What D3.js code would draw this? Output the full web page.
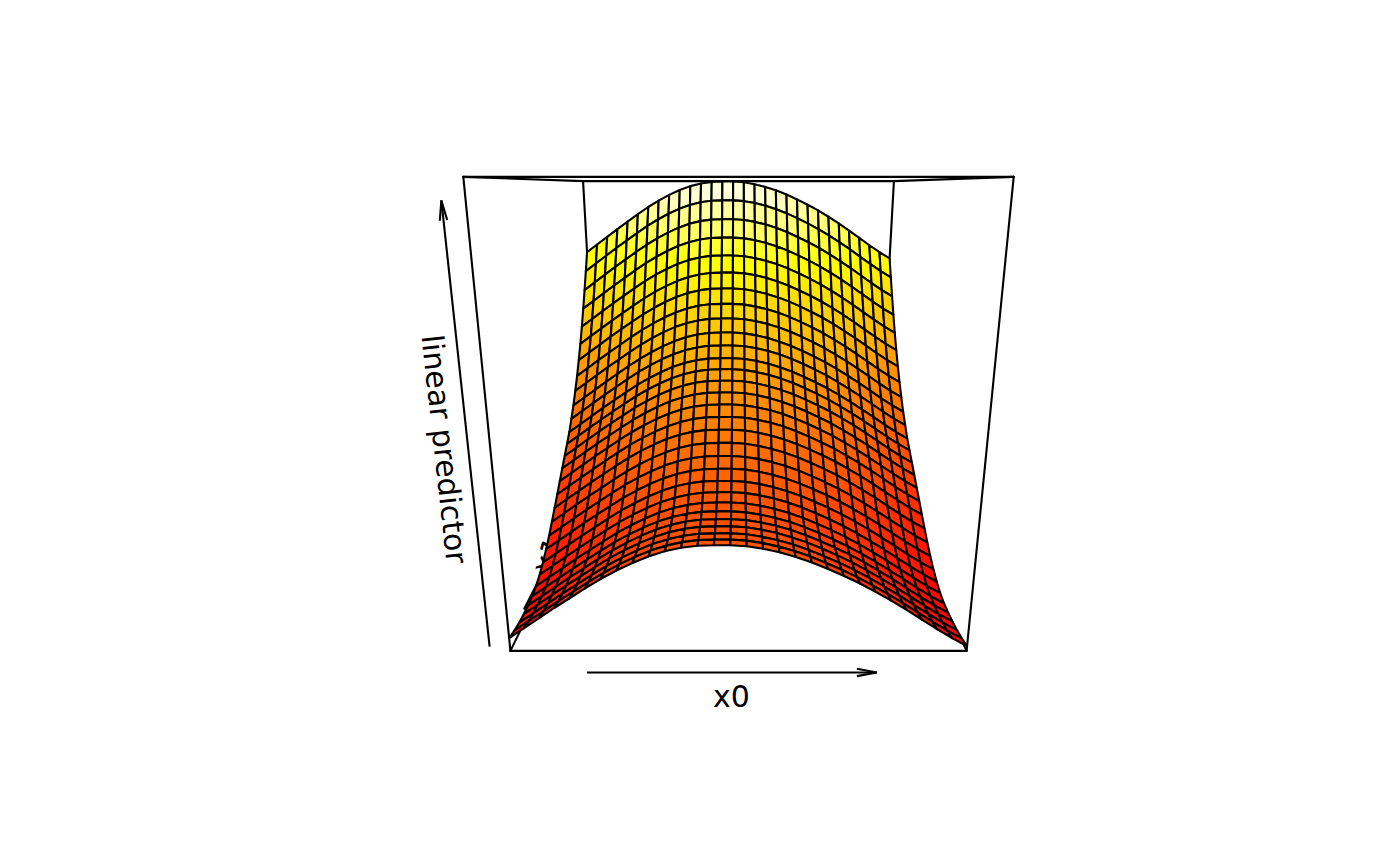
<!DOCTYPE html>
<html>
<head>
<meta charset="utf-8">
<script src="https://cdn.jsdelivr.net/npm/d3@7"></script>
<style>
  body { margin: 0; background: #fff; }
  text { font-family: "DejaVu Sans", sans-serif; font-size: 30px; fill: #000; }
</style>
</head>
<body>
<div id="chart"></div>
<script>
// additive smooth effects on the linear predictor
const x0Effect = [0.17, 0.38, 0.59, 0.80, 1.00, 1.20, 1.39, 1.56, 1.71, 1.84,
                  1.94, 2.01, 2.05, 2.06, 2.06, 2.04, 1.99, 1.92, 1.83, 1.72,
                  1.59, 1.45, 1.30, 1.13, 0.95, 0.76, 0.56, 0.36, 0.17, 0.00];
const x1Effect = [2.10, 2.05, 2.02, 2.01, 2.01, 2.03, 2.08, 2.17, 2.29, 2.44,
                  2.61, 2.80, 3.00, 3.20, 3.40, 3.60, 3.80, 4.00, 4.20, 4.45,
                  4.71, 5.01, 5.33, 5.68, 6.05, 6.46, 6.90, 7.36, 7.84, 8.33];
const zLimits = [2.0, 10.4];
const xLabel = 'x0', yLabel = 'x1', zLabel = 'linear predictor';

const width = 1400, height = 866;
const phi = 15 * Math.PI / 180, r = Math.sqrt(3), d = 1;
const nColours = 100;

const svg = d3.select('#chart').append('svg')
  .attr('width', width).attr('height', height)
  .attr('viewBox', [0, 0, width, height]);

// index / value -> unit box
const xWorld = d3.scaleLinear().domain([0, x0Effect.length - 1]).range([-1, 1]);
const yWorld = d3.scaleLinear().domain([0, x1Effect.length - 1]).range([-1, 1]);
const zWorld = d3.scaleLinear().domain(zLimits).range([-1, 1]);

// projected plane -> page
const screenX = d3.scaleLinear().domain([-1, 1]).range([738.5 - 690, 738.5 + 690]);
const screenY = d3.scaleLinear().domain([-1, 1]).range([371.5 + 690, 371.5 - 690]);

// same viewing transform as persp(theta = 0, phi = 15)
function project(x, y, z) {
  const Y = z * Math.cos(phi) + y * Math.sin(phi);
  const W = z * Math.sin(phi) - y * Math.cos(phi);
  const s = d / (r + 2 * d - W);
  return [screenX(x * s), screenY(Y * s)];
}

// heat.colors(n): rainbow part, then fading yellow
const heatColours = (() => {
  const j = Math.floor(nColours / 4), i = nColours - j, out = [];
  for (let k = 0; k < i; k++) {
    out.push(d3.hsl(360 * (1 / 6) * k / (i - 1), 1, 0.5).formatHex());
  }
  for (let k = 0; k < j; k++) {
    const sat = (1 - 1 / (2 * j)) + (k / (j - 1)) * ((1 / (2 * j)) - (1 - 1 / (2 * j)));
    const lo = Math.round(255 * (1 - sat));
    out.push(d3.rgb(255, 255, lo).formatHex());
  }
  return out;
})();

const surface = (i, j) => x0Effect[i] + x1Effect[j];
const allZ = x0Effect.flatMap(a => x1Effect.map(b => a + b));
const colourIndex = d3.scaleLinear().domain(d3.extent(allZ)).range([0, nColours - 1]).clamp(true);

const line = d3.line();
function edge(g, a, b) {
  g.append('path').attr('d', line([project(...a), project(...b)]))
    .attr('fill', 'none').attr('stroke', '#000').attr('stroke-width', 2.1)
    .attr('stroke-linecap', 'round');
}

function arrow(g, a, b) {
  const p = project(...a), q = project(...b);
  const ang = Math.atan2(q[1] - p[1], q[0] - p[0]);
  const len = 20.4, spread = 10.5 * Math.PI / 180;
  g.append('path').attr('d', line([p, q]))
    .attr('fill', 'none').attr('stroke', '#000').attr('stroke-width', 2.1);
  g.append('path')
    .attr('d', line([
      [q[0] - len * Math.cos(ang - spread), q[1] - len * Math.sin(ang - spread)],
      q,
      [q[0] - len * Math.cos(ang + spread), q[1] - len * Math.sin(ang + spread)]
    ]))
    .attr('fill', 'none').attr('stroke', '#000').attr('stroke-width', 2.1);
}

function label(g, txt, cx, cy, rot) {
  g.append('text').text(txt)
    .attr('text-anchor', 'middle').attr('dominant-baseline', 'central')
    .attr('transform', `translate(${cx},${cy}) rotate(${rot})`);
}

// back of the box, axes and labels go under the surface
const back = svg.append('g');
edge(back, [-1, 1, 1], [1, 1, 1]);
edge(back, [-1, 1, -1], [1, 1, -1]);
edge(back, [-1, 1, -1], [-1, 1, 1]);
edge(back, [1, 1, -1], [1, 1, 1]);
edge(back, [-1, -1, -1], [-1, 1, -1]);
edge(back, [1, -1, -1], [1, 1, -1]);
edge(back, [-1, -1, 1], [-1, 1, 1]);
edge(back, [1, -1, 1], [1, 1, 1]);

arrow(back, [-0.635, -1.139, -1], [0.58, -1.139, -1]);
arrow(back, [-1.089, -1, -0.978], [-1.089, -1, 0.917]);
arrow(back, [-1.033, -0.693, -1], [-1.033, 0.58, -1]);
label(back, xLabel, 731.5, 696, 0);
label(back, zLabel, 444.5, 449, 83.7);
label(back, yLabel, 548, 556, -63.8);

// facets, painted from the back row forward
const facets = [];
for (let j = x1Effect.length - 2; j >= 0; j--) {
  for (let i = 0; i < x0Effect.length - 1; i++) {
    facets.push({ i, j });
  }
}

svg.append('g').selectAll('path')
  .data(facets)
  .join('path')
  .attr('d', f => {
    const corners = [[f.i, f.j], [f.i + 1, f.j], [f.i + 1, f.j + 1], [f.i, f.j + 1]];
    return line(corners.map(c => project(xWorld(c[0]), yWorld(c[1]), zWorld(surface(c[0], c[1]))))) + 'Z';
  })
  .attr('fill', f => {
    const mean = (surface(f.i, f.j) + surface(f.i + 1, f.j) + surface(f.i + 1, f.j + 1) + surface(f.i, f.j + 1)) / 4;
    return heatColours[Math.round(colourIndex(mean))];
  })
  .attr('stroke', '#000')
  .attr('stroke-width', 2.1)
  .attr('stroke-linejoin', 'round');

// front of the box on top
const front = svg.append('g');
edge(front, [-1, -1, -1], [1, -1, -1]);
edge(front, [-1, -1, -1], [-1, -1, 1]);
edge(front, [1, -1, -1], [1, -1, 1]);
edge(front, [-1, -1, 1], [1, -1, 1]);
</script>
</body>
</html>
